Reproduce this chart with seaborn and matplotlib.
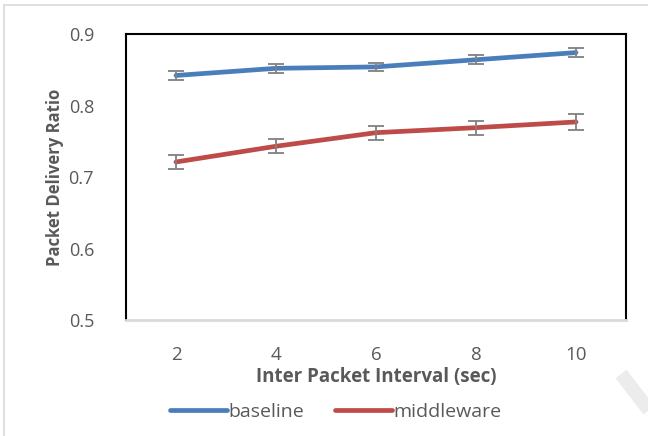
import matplotlib
matplotlib.use("Agg")
import matplotlib.pyplot as plt
import matplotlib.lines as mlines
import pandas as pd
import seaborn as sns

intervals = [2, 4, 6, 8, 10]
baseline = [0.842, 0.852, 0.854, 0.864, 0.874]
baseline_err = [0.006, 0.006, 0.006, 0.006, 0.006]
middleware = [0.721, 0.743, 0.762, 0.769, 0.777]
middleware_err = [0.010, 0.010, 0.010, 0.010, 0.011]

series_names = ["baseline", "middleware"]
series_colors = ["#4a7ebb", "#be4b48"]

df = pd.concat([
    pd.DataFrame({"interval": intervals, "pdr": baseline, "err": baseline_err, "series": "baseline"}),
    pd.DataFrame({"interval": intervals, "pdr": middleware, "err": middleware_err, "series": "middleware"}),
])

sns.set_style("white")
plt.rcParams["font.family"] = ["Open Sans", "DejaVu Sans"]

W, H = 648, 436
fig = plt.figure(figsize=(W / 100, H / 100), dpi=100)
ax = fig.add_axes([126 / W, 1 - 320 / H, (626 - 126) / W, (320 - 34) / H])

sns.lineplot(data=df, x="interval", y="pdr", hue="series", hue_order=series_names,
             palette=series_colors, linewidth=3.4, ax=ax, legend=False, zorder=3)
for name in series_names:
    sub = df[df["series"] == name]
    ax.errorbar(sub["interval"], sub["pdr"], yerr=sub["err"], fmt="none",
                ecolor="#808080", elinewidth=1.3, capsize=5.5, capthick=1.3, zorder=4)

ax.set_xlim(1, 11)
ax.set_ylim(0.5, 0.9)
ax.set_xticks(intervals)
ax.set_yticks([0.5, 0.6, 0.7, 0.8, 0.9])
ax.set_yticklabels(["0.5", "0.6", "0.7", "0.8", "0.9"])
ax.tick_params(axis="x", labelsize=13.5, colors="#595959", length=0, pad=19)
ax.tick_params(axis="y", labelsize=13, colors="#595959", length=0, pad=23)

for side in ["left", "top", "right"]:
    ax.spines[side].set_color("black")
    ax.spines[side].set_linewidth(1.5)
ax.spines["bottom"].set_color("#d9d9d9")
ax.spines["bottom"].set_linewidth(2)

ax.set_xlabel("Inter Packet Interval (sec)", fontsize=13.5, fontweight="bold", color="#595959", labelpad=2)
ax.set_ylabel("Packet Delivery Ratio", fontsize=12, fontweight="bold", color="#595959", labelpad=3)

handles = [mlines.Line2D([], [], color=c, linewidth=3.4) for c in series_colors]
fig.legend(handles, series_names, loc="center", bbox_to_anchor=(336 / W, 1 - 412 / H),
           ncol=2, frameon=False, fontsize=14, handlelength=2.9, handletextpad=0.1,
           columnspacing=1.6, labelcolor="#595959")

# outer chart border (left and top visible)
fig.add_artist(mlines.Line2D([4 / W, 4 / W], [0, 1 - 5 / H], transform=fig.transFigure,
                             color="#d9d9d9", linewidth=1.2))
fig.add_artist(mlines.Line2D([4 / W, 1], [1 - 5 / H, 1 - 5 / H], transform=fig.transFigure,
                             color="#d9d9d9", linewidth=1.2))
# faint page mark in the bottom-right corner
fig.add_artist(mlines.Line2D([621 / W, 652 / W], [1 - 374 / H, 1 - 414 / H], transform=fig.transFigure,
                             color="#ececec", linewidth=10, solid_capstyle="butt"))

fig.savefig("out.png", dpi=100)
